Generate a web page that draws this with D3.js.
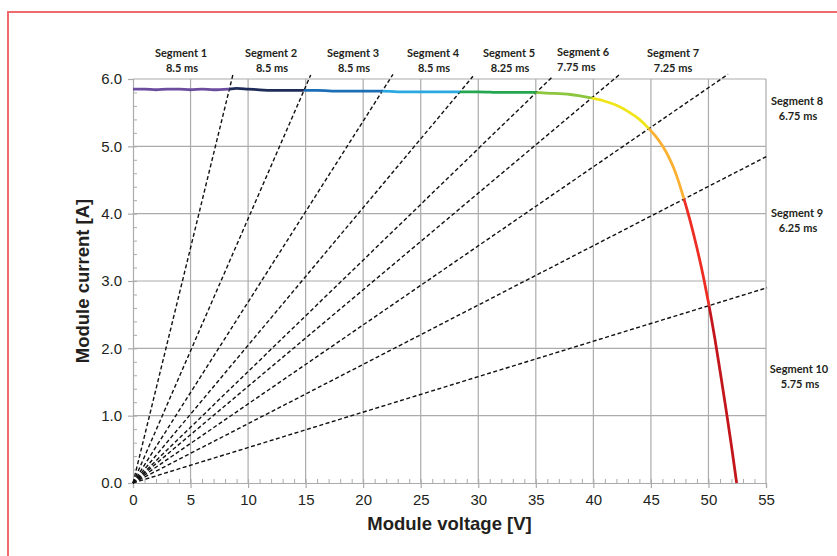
<!DOCTYPE html>
<html>
<head>
<meta charset="utf-8">
<script src="https://cdn.jsdelivr.net/npm/d3@7"></script>
<style>
  body { margin: 0; background: #fff; }
  svg { display: block; }
  .tick text { font-family: "Liberation Sans", Arial, sans-serif; font-size: 15px; fill: #231f20; }
  .seg-label { font-family: Lato, "Open Sans", sans-serif; font-weight: 700; font-size: 11px; fill: #231f20; }
</style>
</head>
<body>
<svg id="chart" width="837" height="556"></svg>
<script>
// I-V curve (V, A)
const curveV = [0, 1, 2, 3, 4, 5, 6, 7, 8.28, 9, 10, 11, 12, 13, 14, 14.83, 16, 18, 20, 21.7,
  23, 25, 27, 28.4, 30, 32, 34.87, 36, 38, 39.77, 41, 42, 43, 44, 44.78, 45.4, 46.0, 46.5, 47.0, 47.4,
  47.8, 48.4, 49.0, 49.6, 50.0, 50.57, 51.05, 51.53, 52.0, 52.45];
const curveI = [5.85, 5.85, 5.84, 5.85, 5.85, 5.84, 5.85, 5.84, 5.85, 5.86, 5.85, 5.84, 5.83, 5.83, 5.83, 5.83, 5.83, 5.82, 5.82, 5.82,
  5.81, 5.81, 5.81, 5.81, 5.81, 5.80, 5.80, 5.79, 5.77, 5.72, 5.67, 5.61, 5.52, 5.40, 5.27, 5.15, 5.01, 4.86, 4.67, 4.48,
  4.26, 3.90, 3.49, 3.03, 2.68, 2.13, 1.62, 1.09, 0.55, 0.00];

const segColors = ["#6b4c9f", "#1f2b58", "#1b6db5", "#2aa8e0", "#25a74f", "#8cc63f",
  "#f0e51a", "#fbb031", "#ee2e24", "#c3161c"];

// dashed lines from the origin: end points (V, A)
const lineEndV = [8.69, 15.44, 22.59, 29.54, 36.49, 42.23, 51.7, 55.17, 55.09];
const lineEndI = [6.07, 6.06, 6.07, 6.04, 6.04, 6.06, 6.07, 4.86, 2.90];

const segNames = ["Segment 1", "Segment 2", "Segment 3", "Segment 4", "Segment 5",
  "Segment 6", "Segment 7", "Segment 8", "Segment 9", "Segment 10"];
const segTimes = ["8.5 ms", "8.5 ms", "8.5 ms", "8.5 ms", "8.25 ms",
  "7.75 ms", "7.25 ms", "6.75 ms", "6.25 ms", "5.75 ms"];

const xTicks = [0, 5, 10, 15, 20, 25, 30, 35, 40, 45, 50, 55];
const yTicks = [0, 1, 2, 3, 4, 5, 6];

const svg = d3.select("#chart"),
  margin = { top: 79, right: 71, bottom: 73, left: 133 },
  W = +svg.attr("width"),
  H = +svg.attr("height");

const x = d3.scaleLinear().domain([0, 55]).range([margin.left, W - margin.right]);
const y = d3.scaleLinear().domain([0, 6]).range([H - margin.bottom, margin.top]);

// red frame round the figure
svg.append("rect")
  .attr("x", 8).attr("y", 12)
  .attr("width", 900).attr("height", 700)
  .attr("fill", "none")
  .attr("stroke", "#ef6a6c")
  .attr("stroke-width", 2);

const gridColor = "#ababab";

// grid
svg.append("g").selectAll("line")
  .data(xTicks.slice(1))
  .join("line")
  .attr("x1", (d) => x(d)).attr("x2", (d) => x(d))
  .attr("y1", y(0)).attr("y2", y(6))
  .attr("stroke", gridColor).attr("stroke-width", 1.2);
svg.append("g").selectAll("line")
  .data(yTicks.slice(1))
  .join("line")
  .attr("x1", x(0)).attr("x2", x(55))
  .attr("y1", (d) => y(d)).attr("y2", (d) => y(d))
  .attr("stroke", gridColor).attr("stroke-width", 1.2);

// minor ticks (inward)
const gx = svg.append("g").attr("transform", `translate(0,${y(0)})`);
gx.call(d3.axisBottom(x).tickValues(d3.range(1, 55)).tickSize(-4).tickFormat(""));
const gy = svg.append("g").attr("transform", `translate(${x(0)},0)`);
gy.call(d3.axisLeft(y).tickValues(d3.range(1, 30).map((i) => i * 0.2)).tickSize(-4).tickFormat(""));
[gx, gy].forEach((g) => {
  g.selectAll(".tick line").attr("stroke", gridColor);
  g.select(".domain").remove();
});

// major axes
const ax = svg.append("g").attr("transform", `translate(0,${y(0)})`)
  .call(d3.axisBottom(x).tickValues(xTicks).tickSize(5).tickPadding(6).tickFormat(d3.format("d")));
const ay = svg.append("g").attr("transform", `translate(${x(0)},0)`)
  .call(d3.axisLeft(y).tickValues(yTicks).tickSize(5).tickPadding(6).tickFormat(d3.format(".1f")));
[ax, ay].forEach((g) => {
  g.selectAll(".tick line").attr("stroke", gridColor).attr("stroke-width", 1.2);
  g.select(".domain").attr("stroke", gridColor).attr("stroke-width", 1.2);
  g.selectAll(".tick text").attr("font-size", null).attr("font-family", null).attr("fill", null);
});

// dashed lines
svg.append("g").selectAll("line")
  .data(lineEndV.map((v, i) => ({ v, a: lineEndI[i] })))
  .join("line")
  .attr("x1", x(0)).attr("y1", y(0))
  .attr("x2", (d) => x(d.v)).attr("y2", (d) => y(d.a))
  .attr("stroke", "#111")
  .attr("stroke-width", 1.4)
  .attr("stroke-dasharray", "4,2.5");

// curve: drawn once per segment, clipped to the wedge between two dashed lines
const ox = x(0), oy = y(0);
const dirs = [[0, -1]];
lineEndV.forEach((v, i) => {
  const dx = x(v) - ox, dy = y(lineEndI[i]) - oy, n = Math.hypot(dx, dy);
  dirs.push([dx / n, dy / n]);
});
dirs.push([1, 0]);
const far = 2000;
const defs = svg.append("defs");
segColors.forEach((c, i) => {
  const a = dirs[i], b = dirs[i + 1];
  defs.append("clipPath").attr("id", "seg" + i)
    .append("polygon")
    .attr("points", [[ox, oy], [ox + a[0] * far, oy + a[1] * far], [ox + b[0] * far, oy + b[1] * far]]
      .map((p) => p.join(",")).join(" "));
});

const pts = curveV.map((v, i) => ({ v, a: curveI[i] }));
const line = d3.line().x((d) => x(d.v)).y((d) => y(d.a)).curve(d3.curveMonotoneX);
svg.append("g").selectAll("path")
  .data(segColors)
  .join("path")
  .attr("clip-path", (d, i) => `url(#seg${i})`)
  .attr("d", line(pts))
  .attr("fill", "none")
  .attr("stroke", (d) => d)
  .attr("stroke-width", 2.8);

// segment labels (x in px, line baselines)
const labelPos = [
  [181, 57, "middle"], [271, 57, "middle"], [353, 57, "middle"], [433, 57, "middle"],
  [509, 57, "middle"], [557, 56, "start"], [673, 57, "middle"],
  [797, 105, "middle"], [797, 217, "middle"], [799, 373, "middle"],
];
const lg = svg.append("g");
labelPos.forEach(([lx, ly, anchor], i) => {
  const t = lg.append("text").attr("class", "seg-label").attr("text-anchor", anchor);
  t.append("tspan").attr("x", lx).attr("y", ly).text(segNames[i]);
  t.append("tspan").attr("x", lx + (anchor === "middle" && i !== 6 ? 1 : 0)).attr("y", ly + 14.5).text(segTimes[i]);
});

// axis titles
svg.append("text")
  .attr("x", (x(0) + x(55)) / 2)
  .attr("y", 530)
  .attr("text-anchor", "middle")
  .attr("font-family", "'Liberation Sans', Arial, sans-serif")
  .attr("font-weight", "bold")
  .attr("font-size", 18.5)
  .attr("fill", "#231f20")
  .text("Module voltage [V]");
svg.append("text")
  .attr("transform", `translate(89,${(y(0) + y(6)) / 2}) rotate(-90)`)
  .attr("text-anchor", "middle")
  .attr("font-family", "'Liberation Sans', Arial, sans-serif")
  .attr("font-weight", "bold")
  .attr("font-size", 18.5)
  .attr("fill", "#231f20")
  .text("Module current [A]");
</script>
</body>
</html>
